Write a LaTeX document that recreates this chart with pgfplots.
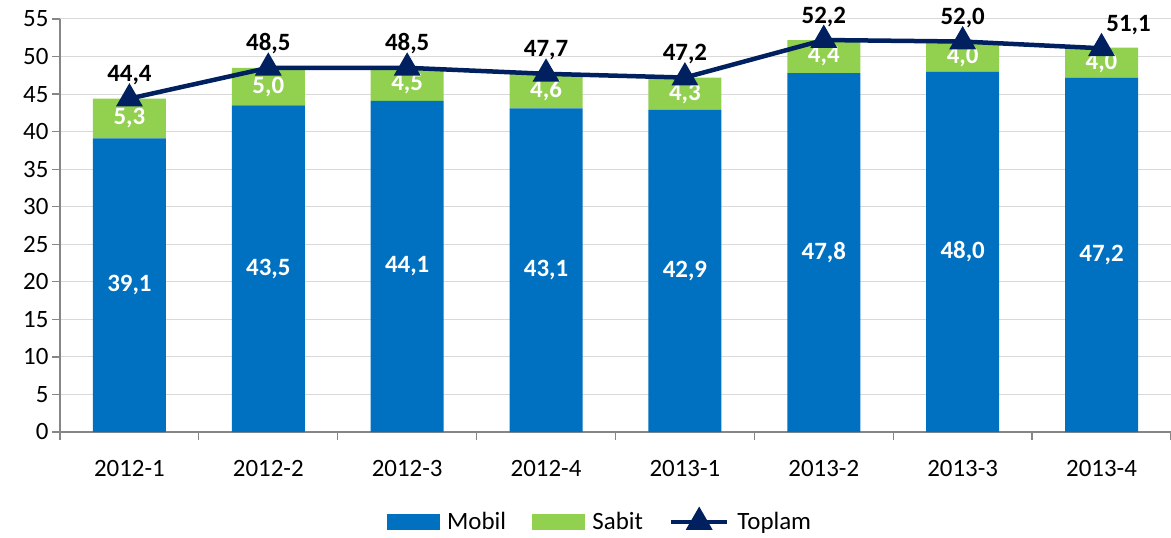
\documentclass[border=0pt]{standalone}
\usepackage{pgfplots}
\usepackage{pgfplotstable}
\pgfplotsset{compat=1.18}
\usepackage{fontspec}
\setmainfont{Carlito}
\definecolor{mobil}{HTML}{0070C0}
\definecolor{sabit}{HTML}{92D050}
\definecolor{toplam}{HTML}{002060}
\definecolor{gridc}{HTML}{D9D9D9}
\definecolor{axisc}{HTML}{868686}
\newcommand{\lblfont}{\fontsize{25}{30}\selectfont}
\pgfplotstableread{
x m s t
0 39.1 5.3 44.4
1 43.5 5.0 48.5
2 44.1 4.5 48.5
3 43.1 4.6 47.7
4 42.9 4.3 47.2
5 47.8 4.4 52.2
6 48.0 4.0 52.0
7 47.2 4.0 51.1
}\data
\begin{document}
\begin{tikzpicture}
\useasboundingbox (-60bp,-106bp) rectangle (1111bp,432bp);
\pgfplotsset{
  common/.style={
    scale only axis, width=1111bp, height=413bp,
    xmin=-0.5, xmax=7.5, ymin=0, ymax=55,
    at={(0,0)}, anchor=south west, clip=false,
    /pgf/number format/use comma,
    /pgf/number format/fixed,
    /pgf/number format/fixed zerofill,
    /pgf/number format/precision=1,
    /pgf/number format/assume math mode=true,
  }
}
\begin{axis}[common,
  ybar stacked, bar width=73bp,
  axis x line*=bottom, axis y line*=left,
  axis line style={axisc, line width=1.2bp},
  ytick={0,5,...,55},
  yticklabel={\pgfmathprintnumber[fixed,precision=0]{\tick}},
  ymajorgrids, grid style={gridc, line width=1bp},
  xtick={0,...,7},
  xticklabels={2012-1,2012-2,2012-3,2012-4,2013-1,2013-2,2013-3,2013-4},
  minor xtick={-0.5,0.5,...,7.5},
  tick align=outside,
  major tick length=8bp, minor tick length=8bp,
  x tick style={draw=none},
  minor x tick style={draw=axisc, line width=1.2bp},
  y tick style={draw=axisc, line width=1.2bp},
  tick label style={font=\lblfont, black},
  xticklabel style={yshift=-17bp},
]
\addplot[fill=mobil, draw=none] table[x=x, y=m] {\data};
\addplot[fill=sabit, draw=none] table[x=x, y=s] {\data};
\end{axis}
\begin{axis}[common, hide axis,
  legend style={at={(0.486,-0.218)}, anchor=center, draw=none, fill=none,
    font=\lblfont, legend columns=3,
    /tikz/every odd column/.append style={column sep=6bp},
    /tikz/every even column/.append style={column sep=24bp}},
]
\addplot[draw=none, mark=none, forget plot, nodes near coords, point meta=explicit,
  every node near coord/.append style={white, font=\bfseries\lblfont, anchor=center}]
  table[x=x, y expr=\thisrow{m}/2, meta=m] {\data};
\addplot[draw=none, mark=none, forget plot, nodes near coords, point meta=explicit,
  every node near coord/.append style={white, font=\bfseries\lblfont, anchor=center}]
  table[x=x, y expr=\thisrow{m}+\thisrow{s}/2, meta=s] {\data};
\addlegendimage{legend image code/.code={\fill[mobil] (0bp,-7.5bp) rectangle (52bp,7.5bp);}}
\addlegendentry{Mobil}
\addlegendimage{legend image code/.code={\fill[sabit] (0bp,-7.5bp) rectangle (52bp,7.5bp);}}
\addlegendentry{Sabit}
\addplot[toplam, line width=4.5bp, mark=triangle*, mark size=11bp, mark options={solid},
  legend image code/.code={\draw[mark repeat=2,mark phase=2] plot coordinates {(0bp,0bp) (28bp,0bp) (56bp,0bp)};},
  nodes near coords, point meta=y,
  visualization depends on={\coordindex \as \idx},
  every node near coord/.append style={black, font=\bfseries\lblfont, anchor=base,
     yshift=17bp, xshift={ifthenelse(\idx==7,27,0)*1bp}},
] table[x=x, y=t] {\data};
\addlegendentry{Toplam}
\end{axis}
\end{tikzpicture}
\end{document}
